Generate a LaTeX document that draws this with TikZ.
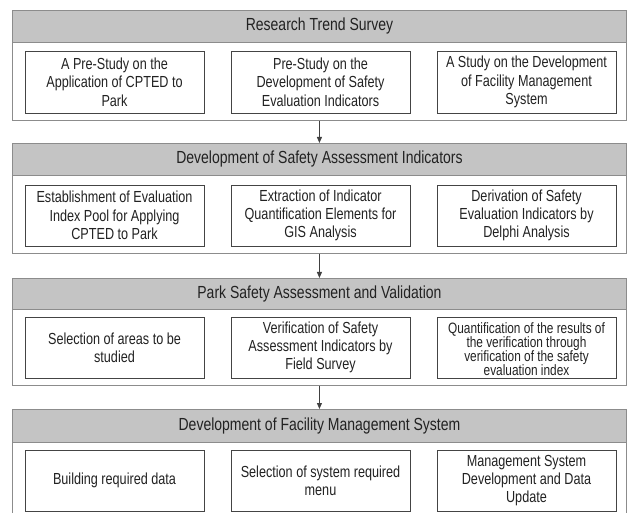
\documentclass[tikz,border=0pt]{standalone}
\usepackage{fontspec}
\setmainfont{Liberation Sans}[FakeStretch=0.79]
\newfontfamily\hdrfont{Liberation Sans}[FakeStretch=0.8]
\usetikzlibrary{arrows.meta}
\definecolor{hdrgray}{HTML}{C4C4C4}
\definecolor{framegray}{HTML}{8C8C8C}
\definecolor{boxline}{HTML}{444444}
\definecolor{txt}{HTML}{222222}
\definecolor{arrgray}{HTML}{404040}
\begin{document}
\begin{tikzpicture}[x=1pt,y=-1pt,
  outer/.style={draw=framegray, line width=0.9pt, anchor=north west, minimum width=614pt, inner sep=0pt},
  hdr/.style={draw=framegray, fill=hdrgray, line width=0.9pt, anchor=north west, minimum width=614pt, inner sep=0pt, font=\hdrfont\fontsize{17.5}{19}\selectfont, text=txt},
  stepbox/.style={draw=boxline, line width=0.9pt, minimum width=179pt, minimum height=62pt, align=center, inner sep=0pt, font=\fontsize{16}{18.3}\selectfont, text=txt},
  arr/.style={draw=arrgray, line width=0.8pt, -{Triangle[length=6pt,width=5pt]}}]
\clip (0,0) rectangle (627,513);
\fill[white] (0,0) rectangle (627,513);
% Section 1
\node[outer, minimum height=110pt] (s1) at (12,10) {};
\node[hdr, minimum height=32pt] (h1) at (12,10) {Research Trend Survey};
\node[stepbox] (b11) at (114.5,82) {A Pre-Study on the\\Application of CPTED to\\Park};
\node[stepbox] (b12) at (320.5,82) {Pre-Study on the\\Development of Safety\\Evaluation Indicators};
\node[stepbox] (b13) at (526.5,82) {A Study on the Development\\of Facility Management\\System};
% Section 2
\node[outer, minimum height=110pt] (s2) at (12,143) {};
\node[hdr, minimum height=32pt] (h2) at (12,143) {Development of Safety Assessment Indicators};
\node[stepbox, minimum height=61pt] (b21) at (114.5,215.5) {Establishment of Evaluation\\Index Pool for Applying\\CPTED to Park};
\node[stepbox, minimum height=61pt] (b22) at (320.5,215.5) {Extraction of Indicator\\Quantification Elements for\\GIS Analysis};
\node[stepbox, minimum height=61pt] (b23) at (526.5,215.5) {Derivation of Safety\\Evaluation Indicators by\\Delphi Analysis};
% Section 3
\node[outer, minimum height=107pt] (s3) at (12,278) {};
\node[hdr, minimum height=31pt] (h3) at (12,278) {Park Safety Assessment and Validation};
\node[stepbox, minimum height=61pt] (b31) at (114.5,347.5) {Selection of areas to be\\studied};
\node[stepbox, minimum height=61pt] (b32) at (320.5,347.5) {Verification of Safety\\Assessment Indicators by\\Field Survey};
\node[stepbox, minimum height=61pt] (b33) at (526.5,347.5) {};
\node[align=center, font=\fontsize{15}{14}\selectfont, text=txt, inner sep=0pt] (t33) at (526.5,349) {Quantification of the results of\\the verification through\\verification of the safety\\evaluation index};
% Section 4
\node[outer, minimum height=130pt] (s4) at (12,409) {};
\node[hdr, minimum height=33pt] (h4) at (12,409) {Development of Facility Management System};
\node[stepbox, minimum height=61pt] (b41) at (114.5,480.5) {Building required data};
\node[stepbox, minimum height=61pt] (b42) at (320.5,481) {Selection of system required\\menu};
\node[stepbox, minimum height=61pt] (b43) at (526.5,480.5) {Management System\\Development and Data\\Update};
% Arrows
\draw[arr] (s1.south) -- (h2.north);
\draw[arr] (s2.south) -- (h3.north);
\draw[arr] (s3.south) -- (h4.north);
\end{tikzpicture}
\end{document}
